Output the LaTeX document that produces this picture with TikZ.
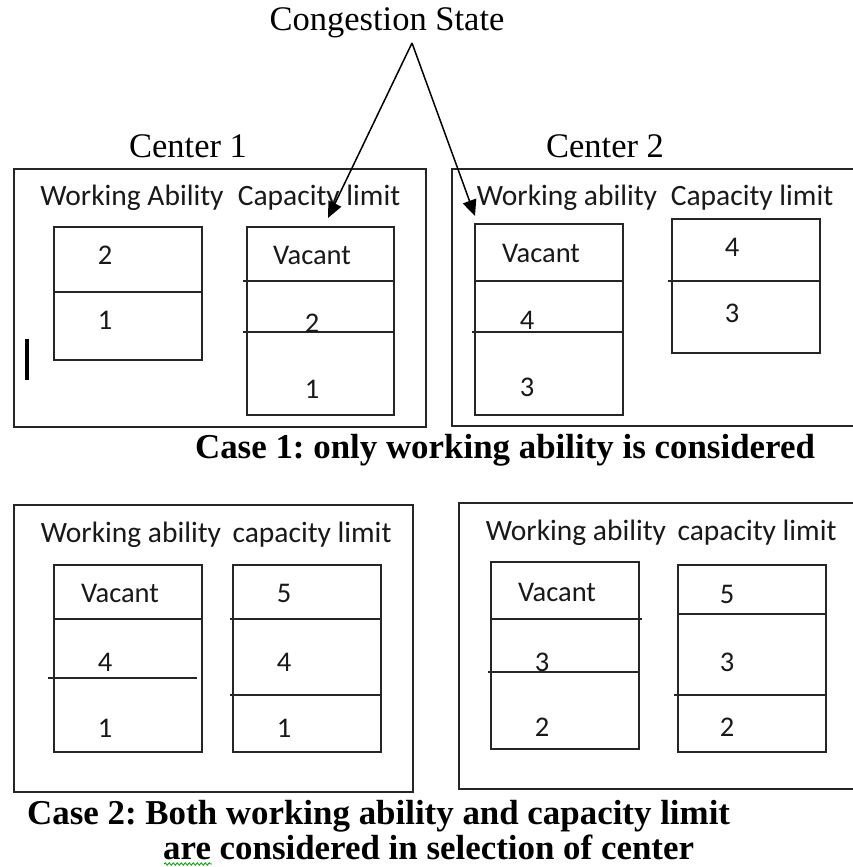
\documentclass[tikz,border=0pt]{standalone}
\usepackage{fontspec}
\setmainfont{Liberation Serif}
\newfontfamily\calib{Carlito}
\usetikzlibrary{arrows.meta,decorations.pathmorphing}
\begin{document}
\frenchspacing
\begin{tikzpicture}[x=1pt,y=-1pt,
  frame/.style={draw=black!85,line width=1.6pt},
  cell/.style={draw=black!85,line width=1.6pt},
  sep/.style={draw=black!85,line width=1.4pt},
  lbl/.style={font=\calib\fontsize{29.5}{31}\selectfont,inner sep=0pt,text=black!90},
  num/.style={font=\calib\fontsize{28.5}{30}\selectfont,inner sep=0pt,text=black!90},
  head/.style={font=\fontsize{34.5}{37}\selectfont,inner sep=0pt},
  casetext/.style={font=\bfseries\fontsize{34.9}{38}\selectfont,inner sep=0pt},
  pointer/.style={line width=1.5pt,-{Triangle[length=16pt,width=14pt]}}]

\useasboundingbox (0,0) rectangle (853,867);
\clip (0,0) rectangle (853,867);
\fill[white] (0,0) rectangle (853,867);

% ---------- Case 1 ----------
\node[head] (cong) at (387,23) {Congestion State};
\node[head] (c1) at (188,146) {Center 1};
\node[head] (c2) at (605,146) {Center 2};

% Center 1
\draw[frame] (14,169) rectangle (426,427);
\node[lbl] (wa1) at (132,198) {Working Ability};
\node[lbl] (cl1) at (319,198) {Capacity limit};
\draw[cell] (54,227) rectangle (202,360);
\draw[sep] (54,292) -- (202,292);
\node[num] (wa1a) at (105,255) {2};
\node[num] (wa1b) at (105,320) {1};
\draw[cell] (247,227) rectangle (394,415);
\draw[sep] (243,281) -- (394,281);
\draw[sep] (243,332) -- (394,332);
\node[num] (cl1a) at (312,255) {Vacant};
\node[num] (cl1b) at (312,323) {2};
\node[num] (cl1c) at (312,389) {1};
\fill[black] (25,339) rectangle (29,380);

% Center 2
\draw[frame] (452,169) rectangle (870,426);
\node[lbl] (wa2) at (567,198) {Working ability};
\node[lbl] (cl2) at (752,198) {Capacity limit};
\draw[cell] (475,224) rectangle (623,415);
\draw[sep] (475,281) -- (623,281);
\draw[sep] (472,332) -- (623,332);
\node[num] (wa2a) at (541,253) {Vacant};
\node[num] (wa2b) at (527,320) {4};
\node[num] (wa2c) at (527,387) {3};
\draw[cell] (672,219) rectangle (820,353);
\draw[sep] (668,281) -- (820,281);
\node[num] (cl2a) at (732,247) {4};
\node[num] (cl2b) at (732,313) {3};

% Congestion pointers
\coordinate (apex) at (412,43);
\coordinate (tip1) at (328,218);
\coordinate (tip2) at (475,216);
\draw[pointer] (apex) -- (tip1);
\draw[pointer] (apex) -- (tip2);

\node[casetext,anchor=base] (case1) at (505,458) {Case 1: only working ability is considered};

% ---------- Case 2 ----------
\draw[frame] (14,505) rectangle (413,792);
\node[lbl] (wa3) at (131,535) {Working ability};
\node[lbl] (cl3) at (312,535) {capacity limit};
\draw[cell] (54,565) rectangle (202,752);
\draw[sep] (54,619) -- (202,619);
\draw[sep] (48,678) -- (197,678);
\node[num] (wa3a) at (120,593) {Vacant};
\node[num] (wa3b) at (105,662) {4};
\node[num] (wa3c) at (105,728) {1};
\draw[cell] (233,565) rectangle (381,752);
\draw[sep] (230,619) -- (381,619);
\draw[sep] (230,695) -- (381,695);
\node[num] (cl3a) at (284,593) {5};
\node[num] (cl3b) at (284,662) {4};
\node[num] (cl3c) at (284,728) {1};

\draw[frame] (459,503) rectangle (870,789);
\node[lbl] (wa4) at (576,533) {Working ability};
\node[lbl] (cl4) at (757,533) {capacity limit};
\draw[cell] (491,562) rectangle (639,749);
\draw[sep] (491,619) -- (642,619);
\draw[sep] (488,672) -- (638,672);
\node[num] (wa4a) at (557,592) {Vacant};
\node[num] (wa4b) at (542,662) {3};
\node[num] (wa4c) at (542,727) {2};
\draw[cell] (678,565) rectangle (826,752);
\draw[sep] (678,614) -- (826,614);
\draw[sep] (674,695) -- (826,695);
\node[num] (cl4a) at (727,594) {5};
\node[num] (cl4b) at (727,662) {3};
\node[num] (cl4c) at (727,727) {2};

\node[casetext,anchor=base west] (case2a) at (27,824) {Case 2: Both working ability and capacity limit};
\node[casetext,anchor=base west] (case2b) at (163,859) {are considered in selection of center};
\draw[green!60!black,line width=0.8pt,decorate,decoration={snake,amplitude=1.2pt,segment length=4pt}]
  (164,864) -- (212,864);
\end{tikzpicture}
\end{document}
